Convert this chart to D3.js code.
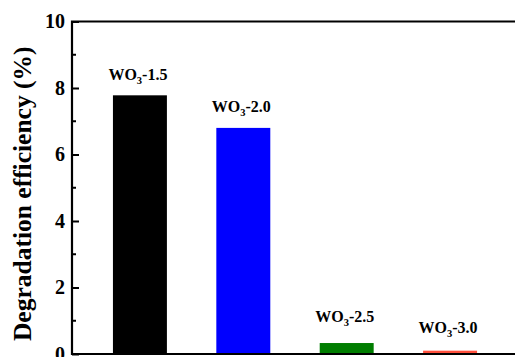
<!DOCTYPE html>
<html>
<head>
<meta charset="utf-8">
<script src="https://cdn.jsdelivr.net/npm/d3@7"></script>
<style>
  html, body { margin: 0; padding: 0; background: #fff; }
  svg { display: block; }
</style>
</head>
<body>
<script>
// Samples and their degradation efficiency (%)
const samples = ["1.5", "2.0", "2.5", "3.0"];
const efficiency = [7.78, 6.8, 0.33, 0.1];
const barColors = ["#000000", "#0000ff", "#007d00", "#ff4f3c"];
const yTicks = [0, 2, 4, 6, 8, 10];
const yMinorTicks = [1, 3, 5, 7, 9];

// Layout: distance of each label's baseline above its bar
const labelLift = [15, 16, 21, 18];

const SERIF = "'Liberation Serif', 'Times New Roman', Times, 'DejaVu Serif', serif";
const W = 515, H = 357;
const margin = { left: 72, top: 21.5, right: -3, bottom: 3 };

const svg = d3.select("body").append("svg").attr("width", W).attr("height", H)
  .style("font-family", SERIF).style("font-weight", "bold");

const x = d3.scaleBand()
  .domain(samples)
  .range([margin.left, W - margin.right])
  .paddingInner(0.478)
  .paddingOuter(0.396);

const y = d3.scaleLinear()
  .domain([0, 10])
  .range([H - margin.bottom, margin.top]);

// Bars
svg.append("g").selectAll("rect")
  .data(samples)
  .join("rect")
  .attr("x", d => x(d))
  .attr("width", x.bandwidth())
  .attr("y", (d, i) => y(efficiency[i]))
  .attr("height", (d, i) => y(0) - y(efficiency[i]))
  .attr("fill", (d, i) => barColors[i]);

// Bar labels: WO3-x with subscript 3
const labels = svg.append("g").selectAll("text")
  .data(samples)
  .join("text")
  .attr("x", d => x(d) + x.bandwidth() / 2 - 2)
  .attr("y", (d, i) => y(efficiency[i]) - labelLift[i])
  .attr("text-anchor", "middle")
  .style("font-family", SERIF).style("font-weight", "bold")
  .style("font-size", "16px");
labels.append("tspan").text("WO");
labels.append("tspan").style("font-size", "10.5px").attr("dy", 4).text("3");
labels.append("tspan").attr("dy", -4).text(d => "-" + d);

// Y axis with inward ticks
const yAxis = d3.axisLeft(y).tickValues(yTicks).tickSize(-7).tickPadding(7).tickFormat(d3.format("d"));
const gy = svg.append("g").attr("transform", `translate(${margin.left},0)`).call(yAxis)
  .attr("font-family", null).attr("font-size", null);
gy.select(".domain").remove();
gy.selectAll(".tick line").attr("stroke", "#000").attr("stroke-width", 2);
gy.selectAll(".tick text").attr("fill", "#000")
  .style("font-family", SERIF).style("font-weight", "bold").style("font-size", "20px");

svg.append("g").selectAll("line")
  .data(yMinorTicks)
  .join("line")
  .attr("x1", margin.left).attr("x2", margin.left + 4)
  .attr("y1", d => y(d)).attr("y2", d => y(d))
  .attr("stroke", "#000").attr("stroke-width", 2);

// Frame lines: left, top, bottom
svg.append("path")
  .attr("d", `M${W + 5},${y(10)} H${margin.left} V${y(0)} H${W + 5}`)
  .attr("fill", "none").attr("stroke", "#000").attr("stroke-width", 2.2);

// Y axis title
svg.append("text")
  .attr("transform", `translate(31,${(y(0) + y(10)) / 2 + 6}) rotate(-90)`)
  .attr("text-anchor", "middle")
  .style("font-family", SERIF).style("font-weight", "bold").style("font-size", "25.5px")
  .text("Degradation efficiency (%)");
</script>
</body>
</html>
